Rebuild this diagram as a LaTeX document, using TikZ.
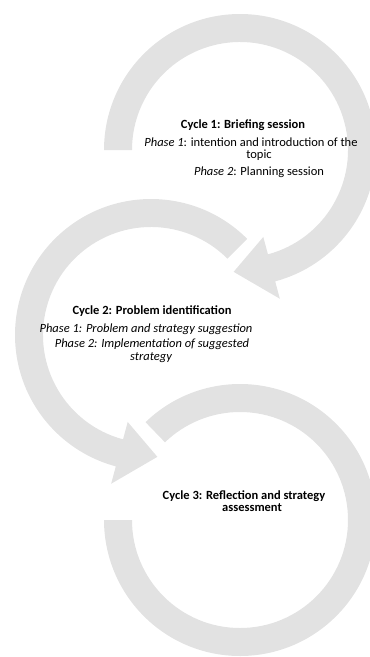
\documentclass[tikz,border=0pt]{standalone}
\usepackage{fontspec}
\setmainfont{Carlito}
\usetikzlibrary{calc}
\definecolor{ringgray}{RGB}{226,226,226}
\begin{document}
\begin{tikzpicture}[x=1pt,y=-1pt,
  ring/.style={fill=ringgray,draw=none},
  lbl/.style={inner sep=0pt,anchor=base,font=\fontsize{12.5}{13}\selectfont},
  ttl/.style={inner sep=0pt,anchor=base,font=\fontsize{12.5}{13}\selectfont\bfseries},
  itl/.style={inner sep=0pt,anchor=base,font=\fontsize{12.5}{13}\selectfont\itshape}]
\useasboundingbox (0,0) rectangle (370,657);
\clip (0,0) rectangle (370,657);
\coordinate (c1) at (240,150);
\coordinate (c2) at (151,335);
\coordinate (c3) at (240,520);
% ring 1: clockwise, arrowhead at bottom
\fill[ring] ($(c1)+(180:136)$) arc[start angle=180,end angle=435,radius=136]
  -- ($(c1)+(75:154)$) -- ($(c1)+(93:122)$) -- ($(c1)+(75:90)$)
  -- ($(c1)+(75:108)$) arc[start angle=435,end angle=180,radius=108] -- cycle;
% ring 2: counter-clockwise, arrowhead at bottom
\fill[ring] ($(c2)+(315:136)$) arc[start angle=315,end angle=105,radius=136]
  -- ($(c2)+(105:154)$) -- ($(c2)+(87:122)$) -- ($(c2)+(105:90)$)
  -- ($(c2)+(105:108)$) arc[start angle=105,end angle=315,radius=108] -- cycle;
% ring 3
\fill[ring] ($(c3)+(226:136)$) arc[start angle=226,end angle=540,radius=136]
  -- ($(c3)+(540:108)$) arc[start angle=540,end angle=226,radius=108] -- cycle;
% texts
\node[ttl] (t1a) at (243,128) {Cycle 1: Briefing session};
\node[lbl] (t1b) at (251,146) {\textit{Phase 1}: intention and introduction of the};
\node[lbl] (t1c) at (259,158) {topic};
\node[lbl] (t1d) at (259,175) {\textit{Phase 2}: Planning session};
\node[ttl] (t2a) at (152,314) {Cycle 2: Problem identification};
\node[itl] (t2b) at (146,332) {Phase 1: Problem and strategy suggestion};
\node[itl] (t2c) at (152,347.5) {Phase 2: Implementation of suggested};
\node[itl] (t2d) at (151,360) {strategy};
\node[ttl] (t3a) at (244,499) {Cycle 3: Reflection and strategy};
\node[ttl] (t3b) at (252,511.5) {assessment};
\end{tikzpicture}
\end{document}
